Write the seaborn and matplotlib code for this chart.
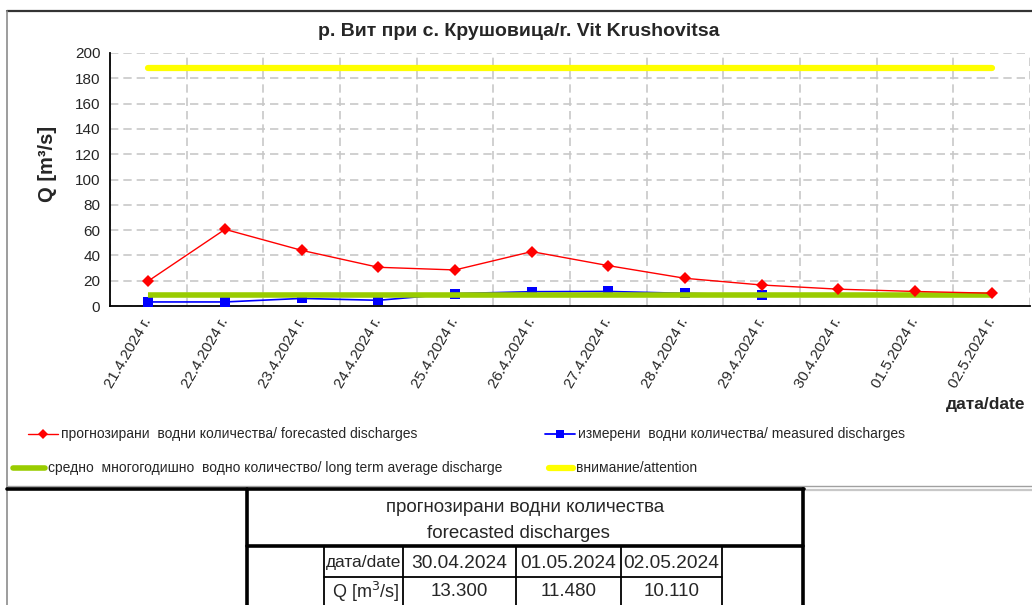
import numpy as np
import pandas as pd
import matplotlib
matplotlib.use('Agg')
import matplotlib.pyplot as plt
import seaborn as sns
from matplotlib.lines import Line2D

# chart data
dates = ['21.4.2024 г.', '22.4.2024 г.', '23.4.2024 г.', '24.4.2024 г.', '25.4.2024 г.',
         '26.4.2024 г.', '27.4.2024 г.', '28.4.2024 г.', '29.4.2024 г.', '30.4.2024 г.',
         '01.5.2024 г.', '02.5.2024 г.']
forecast = [19.8, 60.6, 44.0, 30.6, 28.5, 43.0, 31.9, 21.9, 16.6, 13.30, 11.48, 10.11]
measured = [3.2, 3.2, 6.0, 4.5, 9.8, 11.3, 11.5, 10.0, 8.7, np.nan, np.nan, np.nan]
average_q = 8.7
attention_q = 188.0

table_dates = ['30.04.2024', '01.05.2024', '02.05.2024']
table_q = forecast[-3:]

title = 'р. Вит при с. Крушовица/r. Vit Krushovitsa'
labels = ['прогнозирани  водни количества/ forecasted discharges',
          'измерени  водни количества/ measured discharges',
          'средно  многогодишно  водно количество/ long term average discharge',
          'внимание/attention']

df = pd.DataFrame({'date': dates, 'forecast': forecast, 'measured': measured,
                   'average': [average_q] * len(dates),
                   'attention': [attention_q] * len(dates)})

sns.set_style('white')
plt.rcParams['font.family'] = ['Liberation Sans', 'DejaVu Sans']

W, H = 1032, 605
fig = plt.figure(figsize=(W / 100, H / 100), dpi=100)

def fx(px):
    return px / W

def fy(py):
    return 1 - py / H

ax = fig.add_axes([fx(110), fy(306), fx(1030) - fx(110), fy(53) - fy(306)])

sns.lineplot(data=df, x='date', y='attention', ax=ax, color='#ffff00', lw=4.5,
             solid_capstyle='round', sort=False, zorder=3)
sns.lineplot(data=df, x='date', y='measured', ax=ax, color='#0000ff', lw=1.2,
             marker='s', markersize=6.5, markeredgewidth=0, sort=False, zorder=4)
sns.lineplot(data=df, x='date', y='average', ax=ax, color='#99cc00', lw=4.0,
             solid_capstyle='butt', sort=False, zorder=5)
sns.lineplot(data=df, x='date', y='forecast', ax=ax, color='#ff0000', lw=1.0,
             marker='D', markersize=6, markeredgewidth=0, sort=False, zorder=6)

ax.set_xlim(-0.5, len(dates) - 0.5)
ax.set_ylim(0, 200)
ax.set_yticks(np.arange(0, 201, 20))
ax.set_xticks(range(len(dates)))
ax.set_xticks(np.arange(-0.5, len(dates), 1), minor=True)
ax.set_xticklabels(dates, rotation=60, ha='right', va='center',
                   rotation_mode='anchor', fontsize=10.8)
ax.tick_params(axis='x', which='major', length=0, pad=9)
ax.tick_params(axis='x', which='minor', length=5, width=1, direction='out', color='black')
ax.tick_params(axis='y', length=5, width=1, direction='out', color='black',
               labelsize=11, pad=2)

grid_kw = dict(color='#c8c8c8', lw=1.2, linestyle=(0, (5, 3)))
ax.yaxis.grid(True, **grid_kw)
ax.xaxis.grid(True, which='minor', **grid_kw)
ax.xaxis.grid(False, which='major')
ax.set_axisbelow(True)

for s in ['top', 'right']:
    ax.spines[s].set_visible(False)
for s in ['left', 'bottom']:
    ax.spines[s].set_color('black')
    ax.spines[s].set_linewidth(1.3)

ax.set_xlabel('')
ax.set_ylabel('Q [m³/s]', fontsize=14.5, fontweight='bold')
ax.yaxis.set_label_coords(-0.058, 0.56)
fig.text(fx(519), fy(32), title, fontsize=14, fontweight='bold',
         ha='center', va='center')
fig.text(fx(1025), fy(405), 'дата/date', fontsize=12.5, fontweight='bold',
         ha='right', va='center')

# legend, laid out like the spreadsheet one
legend_items = [
    (dict(color='#ff0000', lw=1.0, marker='D', markersize=5), 28, 58, 434),
    (dict(color='#0000ff', lw=1.3, marker='s', markersize=5.5), 545, 575, 434),
    (dict(color='#99cc00', lw=4.0), 13, 45, 468),
    (dict(color='#ffff00', lw=4.5), 549, 573, 468),
]
for (style, x0, x1, y), lab in zip(legend_items, labels):
    fig.add_artist(Line2D([fx(x0), fx(x1)], [fy(y), fy(y)], transform=fig.transFigure,
                          color=style['color'], lw=style['lw'], solid_capstyle='round'))
    if 'marker' in style:
        fig.add_artist(Line2D([fx((x0 + x1) / 2)], [fy(y)], transform=fig.transFigure,
                              linestyle='none', marker=style['marker'],
                              markersize=style['markersize'], color=style['color'],
                              markeredgewidth=0))
    fig.text(fx(x1 + 3), fy(y), lab, fontsize=10, ha='left', va='center')

# frame of the chart area
def hline(y, x0, x1, **kw):
    fig.add_artist(Line2D([fx(x0), fx(x1)], [fy(y), fy(y)], transform=fig.transFigure, **kw))

def vline(x, y0, y1, **kw):
    fig.add_artist(Line2D([fx(x), fx(x)], [fy(y0), fy(y1)], transform=fig.transFigure, **kw))

hline(11, 7, W, color='#333333', lw=1.6)
vline(7, 11, H, color='#8c8c8c', lw=1.2)
hline(486, 7, W, color='#a0a0a0', lw=1.0)
hline(489.5, 803, W, color='#c8c8c8', lw=1.6)

# forecast table
hline(489, 7, 804, color='black', lw=2.6)
vline(247, 489, H, color='black', lw=2.6)
vline(803, 489, H, color='black', lw=2.6)
hline(546, 247, 803, color='black', lw=2.6)
cols = [324, 403, 516, 621, 722]
for x in cols:
    vline(x, 546, H, color='black', lw=1.3)
hline(577, cols[0], cols[-1], color='black', lw=1.3)

fig.text(fx(525), fy(507), 'прогнозирани водни количества', fontsize=13.5, ha='center', va='center')
fig.text(fx(518), fy(533), 'forecasted discharges', fontsize=13.5, ha='center', va='center')
fig.text(fx((cols[0] + cols[1]) / 2), fy(563), 'дата/date', fontsize=12.5, ha='center', va='center')
fig.text(fx((cols[0] + cols[1]) / 2 + 2), fy(592), 'Q [m$^3$/s]', fontsize=13, ha='center', va='center')
for i, (d, q) in enumerate(zip(table_dates, table_q)):
    xc = fx((cols[i + 1] + cols[i + 2]) / 2)
    fig.text(xc, fy(563), d, fontsize=13.8, ha='center', va='center')
    fig.text(xc, fy(592), f'{q:.3f}', fontsize=13.5, ha='center', va='center')

fig.savefig('out.png', dpi=100)
